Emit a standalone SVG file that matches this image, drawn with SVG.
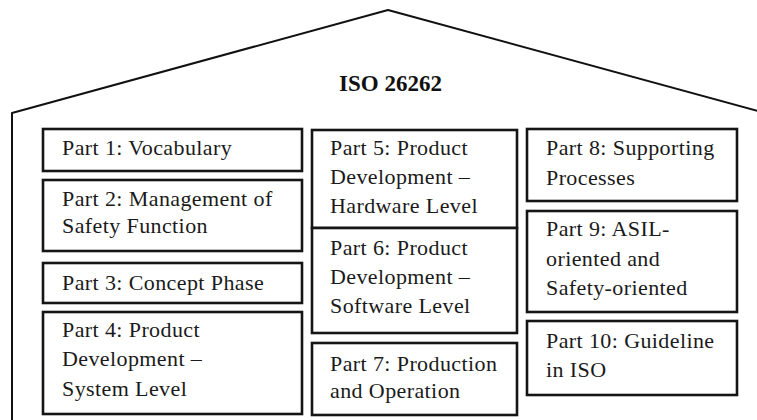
<svg xmlns="http://www.w3.org/2000/svg" width="757" height="420" viewBox="0 0 757 420">
  <style>
    .box { fill: #ffffff; stroke: #151515; stroke-width: 2.6; }
    .lbl { font-family: "Liberation Serif", "Times New Roman", serif; font-size: 22px; letter-spacing: 0.4px; fill: #1a1a1a; }
    .title { font-family: "Liberation Serif", "Times New Roman", serif; font-size: 23px; font-weight: bold; fill: #111111; }
    .roof { fill: none; stroke: #111111; stroke-width: 2; stroke-linejoin: round; }
  </style>
  <rect width="757" height="420" fill="#ffffff"/>

  <!-- house outline: left wall and roof -->
  <g id="house">
    <polyline class="roof" points="12,421 12,113 388,10 758,111"/>
    <text class="title" x="339" y="91">ISO 26262</text>
  </g>

  <!-- left column -->
  <g id="part1">
    <rect class="box" x="43" y="129" width="259" height="42"/>
    <text class="lbl" x="62" y="155">Part 1: Vocabulary</text>
  </g>
  <g id="part2">
    <rect class="box" x="43" y="180" width="259" height="71"/>
    <text class="lbl" x="62" y="206">Part 2: Management of</text>
    <text class="lbl" x="62" y="233">Safety Function</text>
  </g>
  <g id="part3">
    <rect class="box" x="43" y="263" width="259" height="40"/>
    <text class="lbl" x="62" y="290">Part 3: Concept Phase</text>
  </g>
  <g id="part4">
    <rect class="box" x="43" y="312" width="259" height="102"/>
    <text class="lbl" x="62" y="337">Part 4: Product</text>
    <text class="lbl" x="62" y="366">Development –</text>
    <text class="lbl" x="62" y="396">System Level</text>
  </g>

  <!-- middle column -->
  <g id="part5">
    <rect class="box" x="312" y="130" width="205" height="98"/>
    <text class="lbl" x="330" y="155">Part 5: Product</text>
    <text class="lbl" x="330" y="184">Development –</text>
    <text class="lbl" x="330" y="213">Hardware Level</text>
  </g>
  <g id="part6">
    <rect class="box" x="312" y="228" width="205" height="105"/>
    <text class="lbl" x="330" y="255">Part 6: Product</text>
    <text class="lbl" x="330" y="284">Development –</text>
    <text class="lbl" x="330" y="313">Software Level</text>
  </g>
  <g id="part7">
    <rect class="box" x="312" y="343" width="205" height="72"/>
    <text class="lbl" x="330" y="371">Part 7: Production</text>
    <text class="lbl" x="330" y="398">and Operation</text>
  </g>

  <!-- right column -->
  <g id="part8">
    <rect class="box" x="527" y="129" width="210" height="72"/>
    <text class="lbl" x="546" y="155">Part 8: Supporting</text>
    <text class="lbl" x="546" y="185">Processes</text>
  </g>
  <g id="part9">
    <rect class="box" x="527" y="211" width="210" height="101"/>
    <text class="lbl" x="546" y="236">Part 9: ASIL-</text>
    <text class="lbl" x="546" y="266">oriented and</text>
    <text class="lbl" x="546" y="295">Safety-oriented</text>
  </g>
  <g id="part10">
    <rect class="box" x="527" y="321" width="210" height="74"/>
    <text class="lbl" x="546" y="348">Part 10: Guideline</text>
    <text class="lbl" x="546" y="377">in ISO</text>
  </g>

  <g id="connectors"/>
</svg>
